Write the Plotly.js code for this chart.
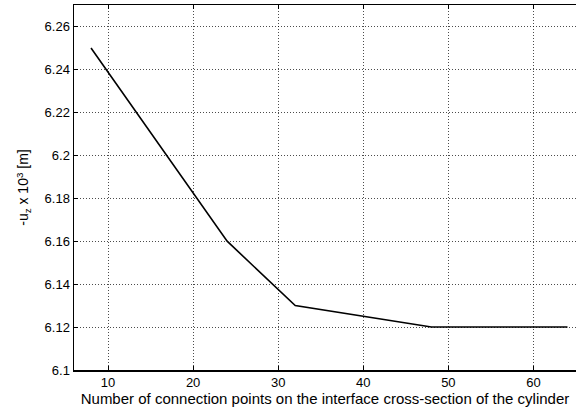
<!DOCTYPE html>
<html>
<head>
<meta charset="utf-8">
<script src="https://cdn.plot.ly/plotly-3.0.1.min.js"></script>
<style>html,body{margin:0;padding:0;background:#fff;}#chart{width:576px;height:412px;}</style>
</head>
<body>
<div id="chart"></div>
<script>
const connectionPoints = [8, 24, 32, 48, 64];
const displacement = [6.25, 6.16, 6.13, 6.12, 6.12];
const xTicks = [10, 20, 30, 40, 50, 60];
const yTicks = [6.1, 6.12, 6.14, 6.16, 6.18, 6.2, 6.22, 6.24, 6.26];
const yTickText = ['6.1', '6.12', '6.14', '6.16', '6.18', '6.2', '6.22', '6.24', '6.26'];

const tickFont = {family: 'Liberation Sans, Arial, sans-serif', size: 13, color: '#000'};
const titleFont = {family: 'Liberation Sans, Arial, sans-serif', size: 15, color: '#000'};

Plotly.newPlot('chart', [{
  x: connectionPoints,
  y: displacement,
  mode: 'lines',
  line: {color: '#000', width: 1.6},
  hoverinfo: 'skip'
}], {
  width: 576, height: 412,
  margin: {l: 74, r: 0, t: 5, b: 42},
  paper_bgcolor: '#fff', plot_bgcolor: '#fff',
  font: tickFont,
  showlegend: false,
  xaxis: {
    range: [6, 65], tickvals: xTicks, ticktext: xTicks.map(String),
    ticks: 'inside', ticklen: 4, tickcolor: '#000', tickwidth: 1,
    showline: true, linecolor: '#000', linewidth: 1.5, mirror: 'ticks',
    showgrid: true, gridcolor: '#000', gridwidth: 0.7, griddash: '1px,2px',
    zeroline: false, tickfont: tickFont,
    title: {text: 'Number of connection points on the interface cross-section of the cylinder', font: titleFont, standoff: 0}
  },
  yaxis: {
    range: [6.1, 6.27], tickvals: yTicks, ticktext: yTickText,
    ticks: 'inside', ticklen: 4, tickcolor: '#000', tickwidth: 1,
    showline: true, linecolor: '#000', linewidth: 1.5, mirror: false,
    showgrid: true, gridcolor: '#000', gridwidth: 0.7, griddash: '1px,2px',
    zeroline: false, tickfont: tickFont,
    title: {text: '-u<sub>z</sub> x 10<sup>3</sup> [m]', font: {family: 'Liberation Sans, Arial, sans-serif', size: 14, color: '#000'}, standoff: 12}
  }
}, {displayModeBar: false, staticPlot: true});
</script>
</body>
</html>
